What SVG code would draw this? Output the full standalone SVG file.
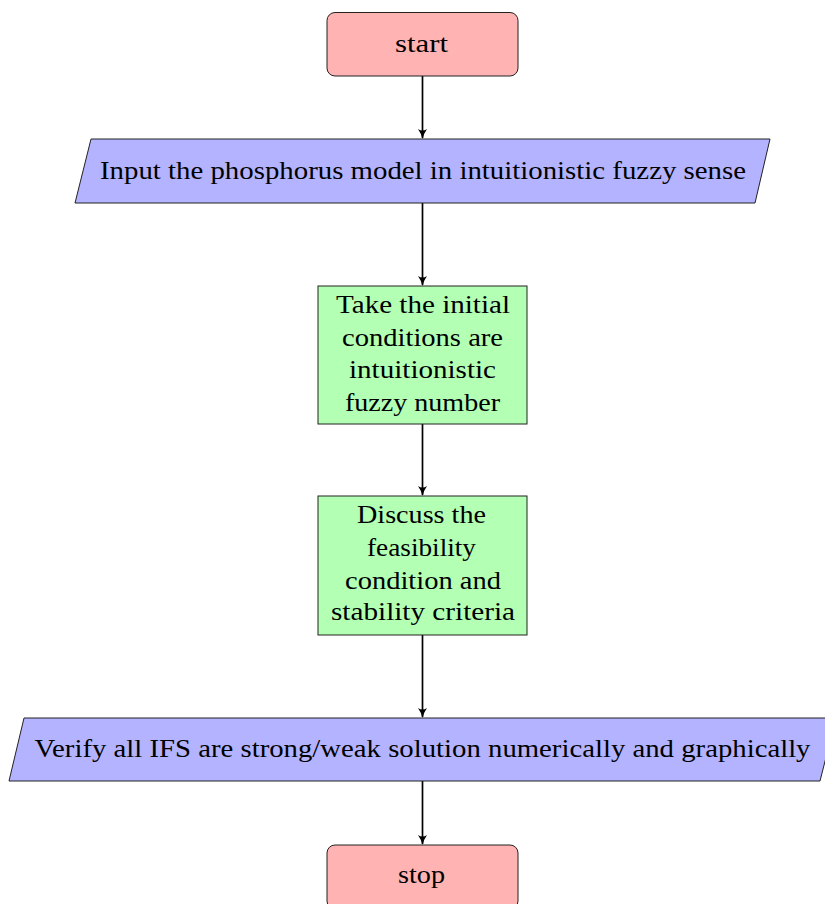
<svg xmlns="http://www.w3.org/2000/svg" width="825" height="904" viewBox="0 0 825 904">
<style>
.red{fill:#ffb3b3;stroke:#222;stroke-width:1}
.blue{fill:#b3b3ff;stroke:#222;stroke-width:1}
.green{fill:#b3ffb3;stroke:#222;stroke-width:1}
</style>
<defs>
<marker id="ah" viewBox="0 0 10 10" refX="9" refY="5" markerWidth="10" markerHeight="10" orient="auto" markerUnits="userSpaceOnUse">
<path d="M0,0.5 Q5,4 10,5 Q5,6 0,9.5 Q3,5 0,0.5Z" fill="#000"/>
</marker>
</defs>
<rect width="825" height="904" fill="#fff"/>
<g id="connectors" stroke="#000" stroke-width="1.7" fill="none" marker-end="url(#ah)">
<line x1="422.5" y1="76" x2="422.5" y2="138"/>
<line x1="422.5" y1="203" x2="422.5" y2="285"/>
<line x1="422.5" y1="424" x2="422.5" y2="495"/>
<line x1="422.5" y1="635" x2="422.5" y2="717"/>
<line x1="422.5" y1="781" x2="422.5" y2="844"/>
</g>
<g font-family="Liberation Serif, Times New Roman, serif" font-size="26" text-anchor="middle" fill="#000">
<g id="start">
<rect class="red" x="327" y="12.5" width="191" height="63.5" rx="8"/>
<text x="421.5" y="52" textLength="53" lengthAdjust="spacingAndGlyphs">start</text>
</g>
<g id="input">
<polygon class="blue" points="91,139 770,139 755,203 75,203"/>
<text x="423" y="179" textLength="646" lengthAdjust="spacingAndGlyphs">Input the phosphorus model in intuitionistic fuzzy sense</text>
</g>
<g id="initial">
<rect class="green" x="318" y="286" width="209" height="138"/>
<text x="423" y="313" textLength="174" lengthAdjust="spacingAndGlyphs">Take the initial</text>
<text x="422.5" y="346" textLength="161" lengthAdjust="spacingAndGlyphs">conditions are</text>
<text x="422.5" y="378" textLength="147" lengthAdjust="spacingAndGlyphs">intuitionistic</text>
<text x="422.5" y="411" textLength="155" lengthAdjust="spacingAndGlyphs">fuzzy number</text>
</g>
<g id="discuss">
<rect class="green" x="318" y="496" width="209" height="139"/>
<text x="421.5" y="523" textLength="129" lengthAdjust="spacingAndGlyphs">Discuss the</text>
<text x="421.5" y="556" textLength="109" lengthAdjust="spacingAndGlyphs">feasibility</text>
<text x="423" y="589" textLength="156" lengthAdjust="spacingAndGlyphs">condition and</text>
<text x="423" y="620" textLength="184" lengthAdjust="spacingAndGlyphs">stability criteria</text>
</g>
<g id="verify">
<polygon class="blue" points="24,718 836,718 820,781 9,781"/>
<text x="422.5" y="757" textLength="776" lengthAdjust="spacingAndGlyphs">Verify all IFS are strong/weak solution numerically and graphically</text>
</g>
<g id="stop">
<rect class="red" x="327" y="845" width="191" height="64" rx="8"/>
<text x="421.5" y="883" textLength="47" lengthAdjust="spacingAndGlyphs">stop</text>
</g>
</g>
</svg>
